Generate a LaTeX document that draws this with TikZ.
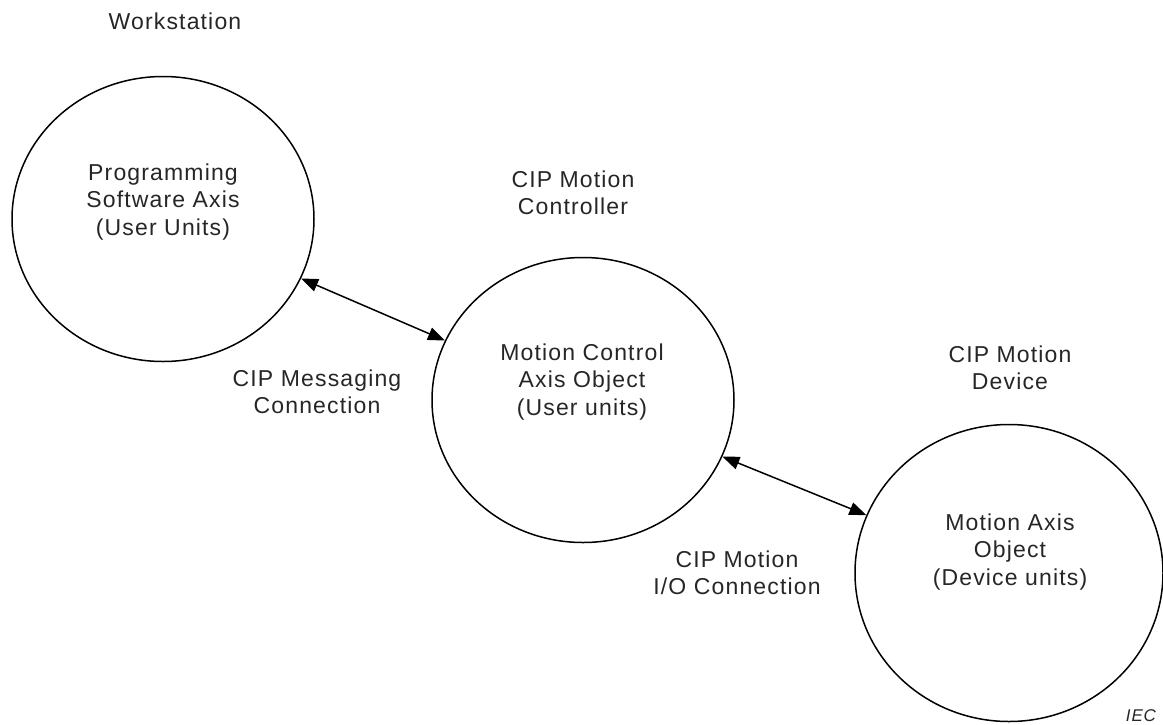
\documentclass[tikz,border=0pt]{standalone}
\usepackage{fontspec}
\setmainfont{Liberation Sans}[LetterSpace=5]
\usetikzlibrary{shapes.geometric,arrows.meta}

\begin{document}
\begin{tikzpicture}[x=1pt,y=-1pt,
  obj/.style={ellipse, draw, line width=1.5pt, inner sep=0pt,
              minimum width=302pt, minimum height=285pt},
  lbl/.style={align=center, font=\fontsize{23}{27.5}\selectfont, text=black!85},
  link/.style={{Triangle[length=17pt,width=13pt]}-{Triangle[length=17pt,width=13pt]},
               line width=1.5pt}]
\useasboundingbox (0,0) rectangle (1163,724);

% the three axis objects
\node[obj] (psa) at (163,219) {};
\node[obj] (mca) at (583,400) {};
\node[obj, minimum width=308pt, minimum height=297pt] (mao) at (1009,573) {};

% texts inside the objects
\node[lbl] (psatxt) at (163,202) {Programming\\Software Axis\\(User Units)};
\node[lbl] (mcatxt) at (582,382) {Motion Control\\Axis Object\\(User units)};
\node[lbl] (maotxt) at (1010,552) {Motion Axis\\Object\\(Device units)};

% device labels
\node[lbl] (ws)   at (175,21)  {Workstation};
\node[lbl] (ctrl) at (573,193) {CIP Motion\\Controller};
\node[lbl] (dev)  at (1010,368) {CIP Motion\\Device};

% connection labels
\node[lbl] (msg) at (317,392) {CIP Messaging\\Connection};
\node[lbl] (io)  at (737,573) {CIP Motion\\I/O Connection};

\node[font=\fontsize{17}{19}\selectfont\itshape, text=black!85, inner sep=0pt] (iec) at (1141,716) {IEC};

% connections
\draw[link] (psa) -- (mca);
\draw[link] (mca) -- (mao);
\end{tikzpicture}
\end{document}
